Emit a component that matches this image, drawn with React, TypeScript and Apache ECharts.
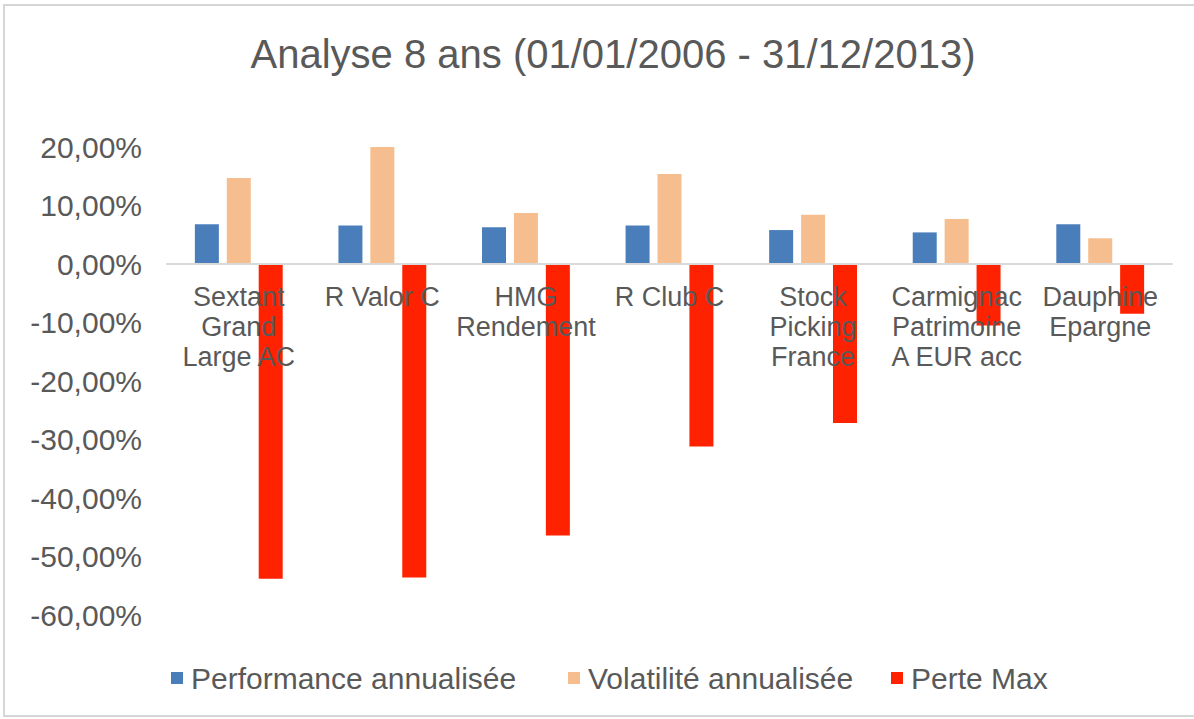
import React, { useEffect, useRef } from "react";
import * as echarts from "echarts";

const titleText = "Analyse 8 ans (01/01/2006 - 31/12/2013)";
const categories = [
  "Sextant\nGrand\nLarge AC",
  "R Valor C",
  "HMG\nRendement",
  "R Club C",
  "Stock\nPicking\nFrance",
  "Carmignac\nPatrimoine\nA EUR acc",
  "Dauphine\nEpargne",
];
const seriesNames = ["Performance annualisée", "Volatilité annualisée", "Perte Max"];
const performance = [6.8, 6.6, 6.3, 6.6, 5.8, 5.4, 6.8];
const volatilite = [14.7, 20.0, 8.7, 15.4, 8.4, 7.7, 4.4];
const perteMax = [-53.8, -53.6, -46.4, -31.2, -27.2, -10.5, -8.5];
const yMin = -60;
const yMax = 20;
const yStep = 10;

const colors = ["#4a7ebb", "#f6be8e", "#ff2200"];
const textColor = "#595959";
const font = "'Liberation Sans', Arial, sans-serif";

const GRID_TOP = 147;
const GRID_BOTTOM_PX = 615;

export default function App() {
  const ref = useRef<HTMLDivElement>(null);
  useEffect(() => {
    document.body.style.margin = "0";
    const chart = echarts.init(ref.current!, null, { renderer: "svg" });
    const values = [performance, volatilite, perteMax];
    const zeroY = GRID_TOP + ((yMax - 0) / (yMax - yMin)) * (GRID_BOTTOM_PX - GRID_TOP);
    const legendLefts = [166, 563, 886];
    chart.setOption({
      animation: false,
      backgroundColor: "#ffffff",
      color: colors,
      textStyle: { fontFamily: font },
      title: {
        text: titleText,
        left: 608,
        top: 29,
        textAlign: "center",
        textStyle: { fontFamily: font, fontSize: 40, fontWeight: "normal", color: textColor },
      },
      graphic: [
        {
          type: "rect",
          shape: { x: 4, y: 5, width: 1200, height: 711 },
          style: { fill: "none", stroke: "#d6d6d6", lineWidth: 2 },
          silent: true,
        },
      ],
      legend: seriesNames.map((name, i) => ({
        left: legendLefts[i],
        top: 658,
        itemWidth: 12,
        itemHeight: 12,
        icon: "rect",
        data: [name],
        textStyle: { fontFamily: font, fontSize: 30, color: textColor, padding: [0, 0, 0, 3] },
      })),
      grid: { left: 167, right: 22, top: GRID_TOP, bottom: 719 - GRID_BOTTOM_PX, containLabel: false },
      xAxis: {
        type: "category",
        data: categories,
        offset: -(GRID_BOTTOM_PX - zeroY),
        axisLine: { onZero: false, lineStyle: { color: "#d9d9d9", width: 2 } },
        axisTick: { show: false },
        axisLabel: {
          interval: 0,
          margin: 18,
          fontFamily: font,
          fontSize: 27,
          lineHeight: 30,
          color: textColor,
        },
        splitLine: { show: false },
        z: 10,
      },
      yAxis: {
        type: "value",
        min: yMin,
        max: yMax,
        interval: yStep,
        axisLine: { show: false },
        axisTick: { show: false },
        splitLine: { show: false },
        axisLabel: {
          margin: 25,
          fontFamily: font,
          fontSize: 30,
          color: textColor,
          formatter: (v: number) => v.toFixed(2).replace(".", ",") + "%",
        },
      },
      series: seriesNames.map((name, i) => ({
        name,
        type: "bar",
        data: values[i],
        barWidth: 24,
        barGap: "33%",
        itemStyle: { color: colors[i] },
        z: 2,
      })),
    });
    return () => chart.dispose();
  }, []);
  return <div ref={ref} style={{ width: 1194, height: 719 }} />;
}
